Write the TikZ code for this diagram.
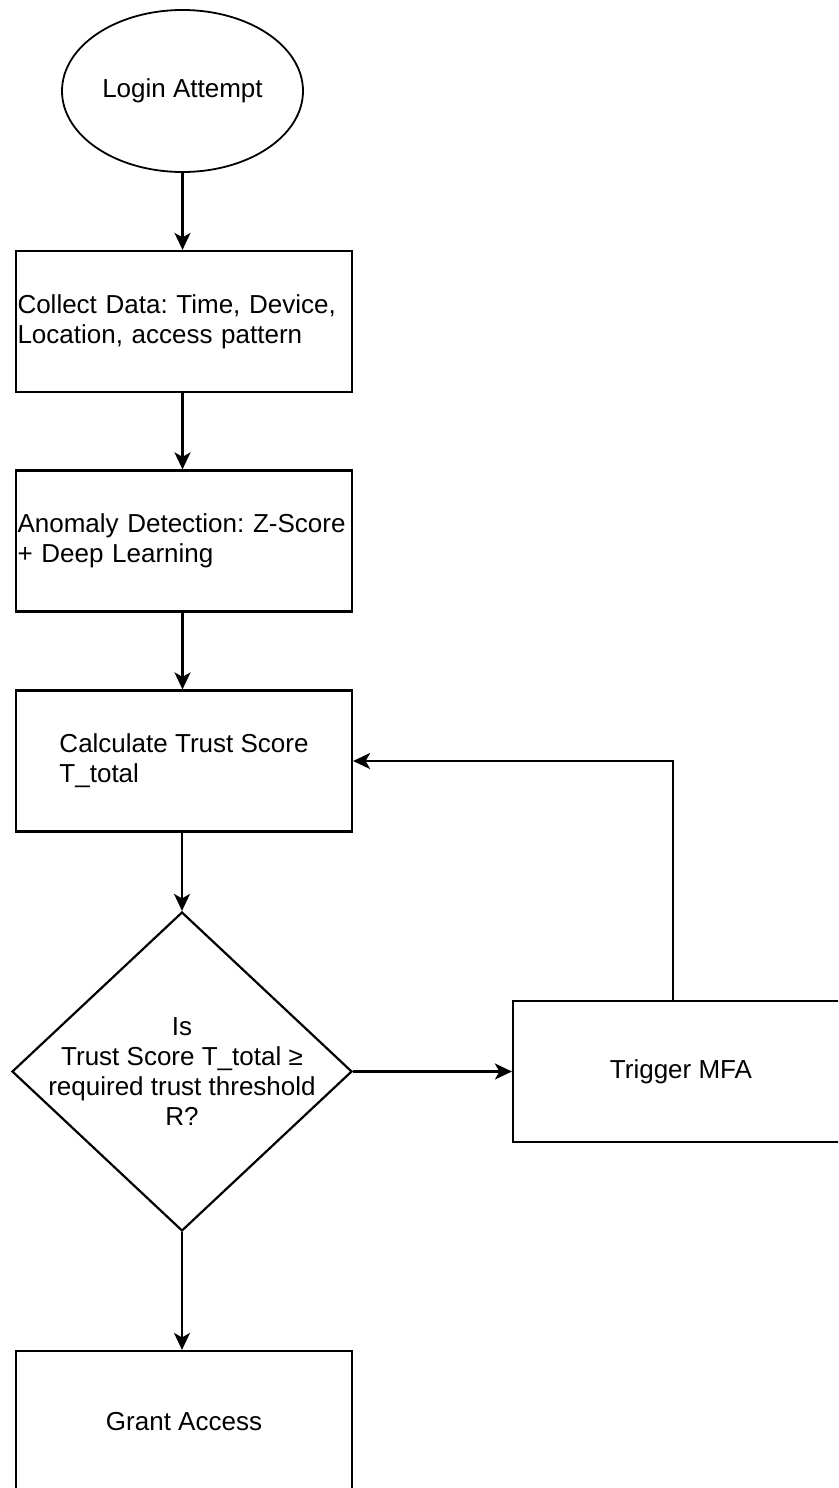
\documentclass[tikz,border=0pt]{standalone}
\usepackage{fontspec}
\setmainfont{Liberation Sans}
\usetikzlibrary{arrows.meta,shapes.geometric,calc}
\frenchspacing

\begin{document}
\begin{tikzpicture}[x=1pt,y=-1pt,
  lbl/.style={font=\fontsize{26}{30}\selectfont, text=black},
  box/.style={lbl, draw, line width=2.2pt, minimum width=336pt, minimum height=141pt, inner sep=0pt},
  widebox/.style={box, text width=333pt, inner xsep=1.5pt, align=left},
  startnode/.style={lbl, draw, ellipse, line width=1.8pt, minimum width=241pt, minimum height=162pt, inner sep=0pt},
  decision/.style={draw, diamond, line width=2.2pt, minimum width=340pt, minimum height=319pt, inner sep=0pt},
  arr/.style={line width=2.2pt, -{Stealth[length=17pt, width=16pt, inset=4.5pt]}}]

\useasboundingbox (0,0) rectangle (838,1488);
\clip (0,0) rectangle (838,1488);

% process nodes
\node[startnode] (login) at (182.5,91) {Login Attempt};
\node[widebox] (collect) at (184,321.5) {Collect Data: Time, Device,\\Location, access pattern};
\node[widebox] (anomaly) at (184,541) {Anomaly Detection: Z-Score\\+ Deep Learning};
\node[box, align=left] (calc) at (184,761) {Calculate Trust Score\\T\_total};
\node[decision] (dec) at (182,1071.5) {};
\node[lbl, align=center] (dectext) at (182,1071.5) {Is\\Trust Score T\_total ≥\\required trust threshold\\R?};
\node[box, align=center] (mfa) at (681,1071.5) {Trigger MFA};
\node[box, align=center] (grant) at (184,1421.5) {Grant Access};

% connectors
\draw[arr] (login.south) -- (login.south |- collect.north);
\draw[arr] (collect.south -| login.south) -- (anomaly.north -| login.south);
\draw[arr] (anomaly.south -| login.south) -- (calc.north -| login.south);
\draw[arr] (calc.south -| dec.north) -- (dec.north);
\draw[arr] (dec.east) -- (mfa.west |- dec.east);
\draw[arr] ([xshift=-8pt]mfa.north) |- (calc.east);
\draw[arr] (dec.south) -- (grant.north -| dec.south);
\end{tikzpicture}
\end{document}
